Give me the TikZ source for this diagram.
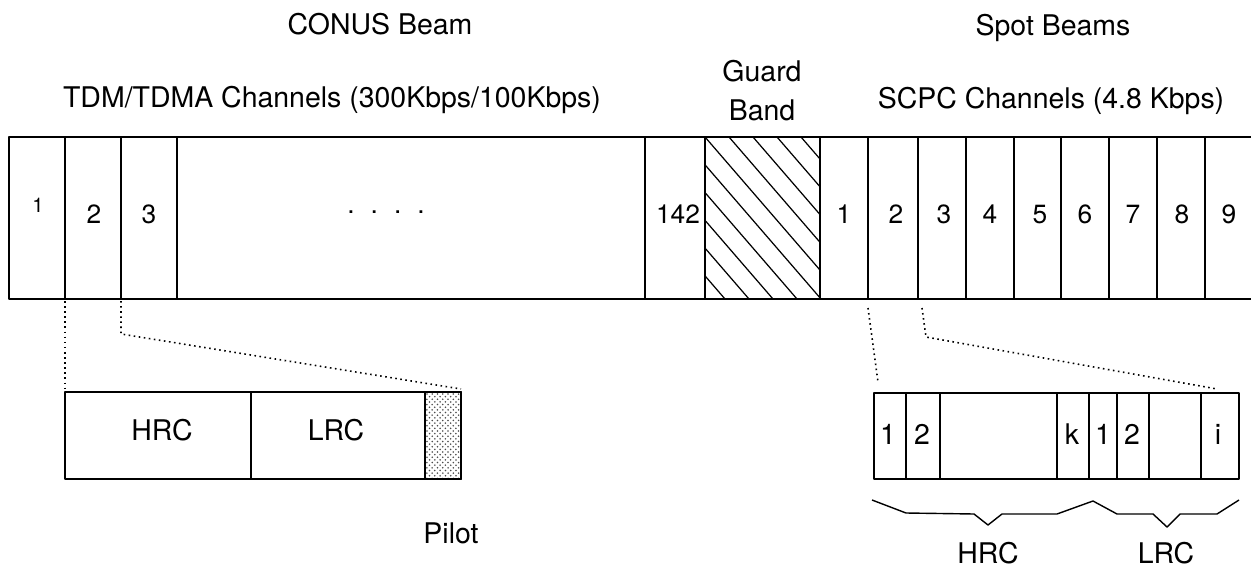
\documentclass[tikz,border=0pt]{standalone}
\usepackage{fontspec}
\setmainfont{TeX Gyre Heros}
\usetikzlibrary{patterns}

\begin{document}
\begin{tikzpicture}[x=0.02cm, y=-0.02cm, line width=1pt, line join=round,
    lbl/.style={inner sep=0pt, anchor=base, font=\fontsize{16.2}{19}\selectfont},
    num/.style={inner sep=0pt, anchor=base, font=\fontsize{15}{18}\selectfont},
    zoomline/.style={dotted, line width=0.9pt},
    hatchline/.style={line width=0.7pt}]
\useasboundingbox (0,0) rectangle (1251,568);

% =====================================================
% TITULOS
% =====================================================
\node[lbl] (conus) at (380,34) {CONUS Beam};
\node[lbl] (tdm) at (332,107) {TDM/TDMA Channels (300Kbps/100Kbps)};
\node[lbl] (guard) at (762,81) {Guard};
\node[lbl] (band) at (762,120) {Band};
\node[lbl] (spot) at (1053,35) {Spot Beams};
\node[lbl] (scpc) at (1051,108) {SCPC Channels (4.8 Kbps)};

% =====================================================
% BANDA PRINCIPAL
% =====================================================
\draw (1251,137) -- (9,137) -- (9,299) -- (1251,299);
\foreach \x in {65,121,177,645,705,820,868,918,966,1014,1061,1109,1157,1205}
    \draw (\x,137) -- (\x,299);

% --- banda de guarda (rayado) ---
\begin{scope}
    \clip (705,137) rectangle (820,299);
    \foreach \s in {-144,-120,...,120}
        \draw[hatchline] ({705+\s},137) -- ++(140,162);
\end{scope}

% --- canales TDM/TDMA ---
\node[num, font=\fontsize{11.5}{14}\selectfont] (c1) at (38,212) {1};
\node[num] (c2) at (94,223) {2};
\node[num] (c3) at (149,223) {3};
\node[num] (cdots) at (386,213) {.\hspace{0.32cm}.\hspace{0.32cm}.\hspace{0.32cm}.};
\node[num] (c142) at (678,223) {142};

% --- canales SCPC ---
\foreach \n/\xpos in {1/844, 2/896, 3/944, 4/990, 5/1040, 6/1085, 7/1133, 8/1182, 9/1229}
    \node[num] (s\n) at (\xpos,223) {\n};

% puntos de referencia para las lineas de detalle
\coordinate (c2sw) at (65,301);
\coordinate (c3sw) at (121,301);
\coordinate (c3bend) at (121,334);
\coordinate (s2sw) at (868,308);
\coordinate (s3sw) at (922,308);
\coordinate (s3bend) at (926,337);

% =====================================================
% DETALLE IZQUIERDO: TRAMA TDM
% =====================================================
\draw (65,392) rectangle (461,479);
\draw (251,392) -- (251,479);
\draw[fill=black!18, pattern=crosshatch dots, pattern color=black!70]
    (425,392) rectangle (461,479);
\draw (425,392) rectangle (461,479);
\coordinate (frameA) at (65,392);
\coordinate (frameAe) at (461,389);

\node[lbl] (hrcA) at (162,440) {HRC};
\node[lbl] (lrcA) at (336,440) {LRC};
\node[lbl] (pilot) at (451,543) {Pilot};

\draw[zoomline] (c2sw) -- (frameA);
\draw[zoomline] (c3sw) -- (c3bend) -- (frameAe);

% =====================================================
% DETALLE DERECHO: CANALES SCPC
% =====================================================
\draw (874,393) rectangle (1239,479);
\foreach \x in {906,940,1057,1089,1117,1149,1201}
    \draw (\x,393) -- (\x,479);
\coordinate (frameB) at (878,382);
\coordinate (frameBe) at (1217,389);

\foreach \t/\xpos [count=\i] in {1/888, 2/922, k/1072, 1/1103, 2/1132, i/1218}
    \node[lbl] (d\i) at (\xpos,444) {\t};

\draw[zoomline] (s2sw) -- (frameB);
\draw[zoomline] (s3sw) -- (s3bend) -- (frameBe);

% --- llaves HRC / LRC ---
\draw[line width=0.8pt]
    (872,500) -- (906,513) -- (974,514) -- (988,525) -- (1002,514) -- (1057,514)
    -- (1093,501) -- (1117,514) -- (1153,514) -- (1167,527) -- (1180,514)
    -- (1217,514) -- (1239,500);
\node[lbl] (hrcB) at (988,563) {HRC};
\node[lbl] (lrcB) at (1166,563) {LRC};

\end{tikzpicture}
\end{document}
